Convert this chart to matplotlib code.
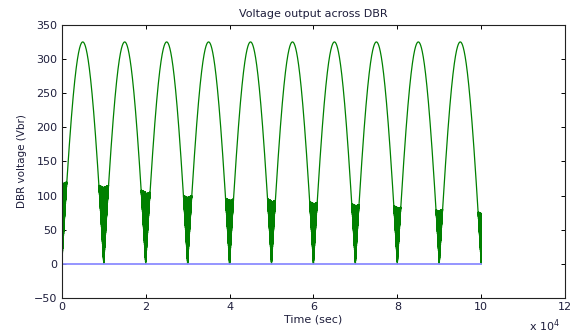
import numpy as np
import matplotlib
matplotlib.use("Agg")
import matplotlib.pyplot as plt

plt.rcParams['font.family'] = ['DejaVu Sans']

# Waveform
peak_volts = 325                # crest of every half-cycle
half_period = 10000             # samples per hump
n_humps = 10
# noisy band level near each zero crossing (descending side, rising side)
clip_desc = [0, 115, 108, 100, 96, 95, 91, 88, 85, 79, 76]
clip_rise = [120, 115, 105, 100, 95, 93, 90, 87, 83, 80, 0]
noise_pattern = [1.0, 0.8, 0.95, 0.6, 1.0, 0.88, 0.7, 0.97]

x_ticks = [0, 2, 4, 6, 8, 10, 12]
y_ticks = [-50, 0, 50, 100, 150, 200, 250, 300, 350]

# build signal
t = np.arange(0, n_humps * half_period + 1)
base = peak_volts * np.abs(np.sin(np.pi * t / half_period))
v = base.copy()
pat = np.array(noise_pattern)[t % len(noise_pattern)]
odd = (t % 2) == 1
for k in range(n_humps + 1):
    c0 = k * half_period
    # descending side
    if clip_desc[k] > 0:
        m = (t <= c0) & (t > c0 - half_period / 2) & (base < clip_desc[k])
        sel = m & odd & ((t // 5) % 3 != 0)
        v[sel] = base[sel] + (clip_desc[k] - base[sel]) * pat[sel]
    # rising side
    if clip_rise[k] > 0:
        m = (t >= c0) & (t < c0 + half_period / 2) & (base < clip_rise[k])
        sel = m & odd & ((t // 7) % 3 == 0)
        v[sel] = base[sel] + (clip_rise[k] - base[sel]) * pat[sel]

fig = plt.figure(figsize=(5.72, 3.36), dpi=100)
ax = fig.add_axes([0.108, 0.113, 0.88, 0.813])

ax.plot(t / 1e4, v, color='#008000', lw=0.9)
ax.plot([0, n_humps * half_period / 1e4], [0, 0], color='#8c8cff', lw=1.3)

ax.set_xlim(0, 12)
ax.set_ylim(-50, 350)
ax.set_xticks(x_ticks)
ax.set_yticks(y_ticks)
ax.tick_params(direction='in', length=3, width=0.7, top=True, right=True,
               labelsize=8, labelcolor='#1e1e3c', pad=3)
for s in ax.spines.values():
    s.set_linewidth(0.8)
    s.set_color('#222222')

ax.set_title("Voltage output across DBR", fontsize=8, pad=6, color='#1e1e3c')
ax.set_xlabel("Time (sec)", fontsize=8, labelpad=2, color='#1e1e3c')
ax.set_ylabel("DBR voltage (Vbr)", fontsize=7.5, labelpad=5, color='#1e1e3c')
ax.text(0.99, -0.103, r"x 10$^{4}$", transform=ax.transAxes, fontsize=8,
        ha='right', va='center', color='#1e1e3c')

fig.savefig("out.png", dpi=100)
